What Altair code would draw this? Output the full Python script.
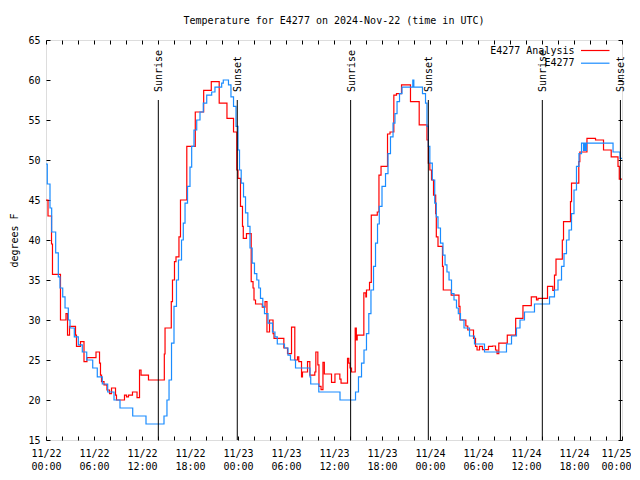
import altair as alt
import pandas as pd

MONO = "DejaVu Sans Mono"

title_text = "Temperature for E4277 on 2024-Nov-22 (time in UTC)"
series_names = ["E4277 Analysis", "E4277"]
series_colors = ["#ff0000", "#1a8cff"]

# hours since 2024-11-22 00:00 UTC
red_hours = [0.0, 0.25, 0.69, 0.81, 1.81, 2.5, 2.69, 2.94, 3.69, 3.81, 4.31, 4.75, 5.12, 6.25, 6.69,
             6.81, 6.94, 7.25, 7.62, 7.94, 8.19, 8.69, 8.81, 9.81, 10.06, 10.31, 10.81, 11.38, 11.69,
             11.88, 12.81, 14.79, 14.88, 15.66, 15.81, 16.06, 16.25, 16.62, 16.81, 17.6, 18.66, 19.71,
             20.66, 21.65, 22.62, 23.44, 23.85, 24.0, 24.31, 24.56, 24.66, 25.06, 25.65, 25.88, 26.0,
             26.19, 27.04, 27.38, 27.62, 27.94, 28.38, 28.5, 29.73, 30.19, 30.69, 31.1, 31.44, 31.6,
             31.94, 32.06, 32.69, 32.98, 33.6, 33.73, 33.98, 34.12, 34.38, 34.62, 34.79, 35.69, 36.12,
             36.73, 36.88, 37.69, 37.85, 38.0, 38.19, 38.65, 38.79, 38.9, 39.73, 39.98, 40.06, 40.44,
             40.66, 41.41, 41.62, 41.88, 42.69, 43.0, 43.48, 43.81, 44.44, 45.56, 46.65, 47.62, 47.79,
             47.98, 48.19, 48.44, 48.71, 48.79, 49.0, 49.56, 49.66, 50.65, 51.62, 51.75, 52.48, 52.72,
             53.44, 53.69, 53.88, 54.19, 54.56, 55.31, 55.81, 56.19, 56.38, 56.6, 57.66, 58.71, 59.62,
             60.66, 61.31, 61.5, 62.69, 63.35, 63.56, 63.75, 64.54, 64.69, 65.56, 65.69, 66.6, 66.73,
             67.62, 68.69, 69.69, 70.65, 71.5, 71.66, 72.0]
red_temps = [45, 43, 39.5, 35.7, 30, 30.8, 28.1, 29.2, 28.1, 26.7, 27.3, 24.8, 25.3, 26, 24.6,
             23.1, 22.3, 21.9, 21.25, 20.8, 21.5, 20.6, 20, 20.6, 20.4, 20.6, 21, 20.3, 23.75,
             23.1, 22.5, 25.75, 29, 32.3, 35, 37.3, 37.9, 40.4, 45, 51.7, 56, 58.7,
             59.8, 57.1, 55.2, 53.5, 48.75, 47.7, 44.2, 41.7, 40.2, 40.8, 34.8, 34, 32.5,
             32, 31.6, 32.3, 28.5, 30, 28.3, 27.7, 26.5, 25.8, 29.1, 25, 25.4, 24.8,
             22.9, 23.5, 24.8, 23.1, 23.5, 26, 24.4, 21.7, 21.3, 24.7, 23.25, 22.2, 23.25,
             22.6, 22.1, 25.2, 24.6, 24, 23.5, 29, 27.5, 28.1, 33.4, 32.9, 33.75, 34.7,
             43.1, 43.5, 48.1, 49.2, 53.25, 53.5, 58.1, 58.3, 59.4, 57.3, 54.4, 52.5, 49.6,
             48.75, 47.5, 45.6, 43.3, 40.4, 39.2, 36.7, 33.75, 33.1, 31.7, 30, 29.25, 28.75,
             27.7, 26.7, 26.25, 26.7, 26.3, 26.7, 26.75, 26.25, 25.8, 27.1, 28.1, 30.2, 31.8,
             32.9, 32.5, 32.7, 34.2, 33.7, 35.6, 37.6, 40, 42.3, 44.8, 47.1, 49.8, 51,
             52.7, 52.5, 51.25, 50.4, 49.2, 47.6, 47.6]

blue_hours = [0.0, 0.16, 0.5, 0.71, 1.21, 1.54, 1.75, 2.09, 2.38, 2.79, 3.0, 3.54, 4.04, 4.54, 5.09,
              5.84, 6.41, 7.04, 7.71, 8.5, 9.25, 10.84, 12.5, 14.75, 15.12, 15.38, 15.69, 16.0, 16.31,
              16.56, 16.94, 17.16, 17.38, 17.69, 18.0, 18.21, 18.5, 18.84, 19.25, 19.66, 20.09, 20.71,
              21.12, 21.96, 22.16, 22.81, 23.12, 23.44, 23.75, 24.0, 24.19, 24.4, 24.69, 24.94, 25.23,
              25.5, 25.77, 26.06, 26.35, 26.6, 26.81, 27.1, 27.31, 27.75, 28.31, 28.62, 28.91, 29.81,
              30.25, 30.56, 31.19, 33.0, 33.09, 34.1, 36.75, 38.69, 39.06, 39.44, 39.75, 40.06, 40.35,
              40.62, 40.94, 41.19, 41.44, 41.66, 42.0, 42.44, 42.75, 43.06, 43.38, 43.62, 43.88, 44.19,
              44.5, 45.85, 45.98, 47.06, 47.44, 47.62, 47.79, 47.98, 48.29, 48.59, 48.79, 49.0, 49.31,
              49.62, 49.88, 50.12, 50.38, 50.69, 51.0, 51.31, 51.54, 51.81, 52.25, 52.94, 53.56, 54.81,
              57.56, 58.19, 58.81, 59.25, 59.81, 61.06, 62.94, 63.56, 64.0, 64.44, 64.75, 65.06, 65.38,
              65.69, 66.0, 66.31, 66.62, 66.94, 67.19, 67.31, 67.41, 67.56, 70.88, 71.75, 72.0]
blue_temps = [49.5, 47, 44, 41, 38.4, 35.4, 34, 32.9, 31.5, 30, 29, 27.9, 26.9, 26, 25,
              24, 22.9, 22, 21, 20, 19, 18, 17, 18, 20, 22.5, 27.1, 31.7, 35,
              37.5, 40, 42.1, 44.6, 46.7, 49.1, 51.7, 53.75, 55, 56, 57.1, 58.1, 58.5,
              59.1, 59.6, 60, 59.4, 57.9, 56.7, 54.2, 51.25, 48.75, 47.1, 45.4, 43.4, 41.7,
              39, 37.1, 35.8, 35, 34, 32.7, 31.7, 30.8, 29.6, 28.5, 27.9, 27, 26.5,
              25.6, 25, 24, 22.9, 22, 21, 20, 21, 22.9, 24.6, 26.25, 28.3, 30.8,
              33.75, 36.7, 39.6, 42, 44.2, 46.7, 48.3, 50.8, 52.9, 54.6, 55.8, 57.3, 58.3,
              59.1, 60, 59.1, 58.3, 57.1, 54.2, 51.7, 49.6, 47.5, 44.6, 42.9, 41.5, 39.6,
              38.1, 36.9, 36, 35, 33.3, 32.5, 31.5, 30.8, 30, 29, 28, 27, 26,
              27, 28, 29, 30, 31, 32, 32.9, 33.75, 35, 36.7, 38.3, 40, 41.25,
              43.3, 46.25, 49.2, 50.8, 52.1, 51.2, 52.1, 51.2, 52.1, 51, 50.2, 50.2]

sun_hours = [14.04, 23.91, 38.08, 47.79, 62.04, 71.8]
sun_labels = ["Sunrise", "Sunset", "Sunrise", "Sunset", "Sunrise", "Sunset"]

x_label_hours = list(range(0, 73, 6))
x_tick_hours = list(range(0, 73, 2))
y_tick_values = list(range(15, 66, 5))

red_df = pd.DataFrame({"hour": red_hours, "temp": red_temps})
blue_df = pd.DataFrame({"hour": blue_hours, "temp": blue_temps})
sun_df = pd.DataFrame({"hour": sun_hours, "label": sun_labels})
legend_df = pd.DataFrame({"name": series_names, "color": series_colors})

xscale = alt.Scale(domain=[0, 72], nice=False, zero=False)
yscale = alt.Scale(domain=[15, 65], nice=False, zero=False)

label_expr = ("['11/' + (22 + floor(datum.value / 24)), "
              "(datum.value % 24 < 10 ? '0' : '') + (datum.value % 24) + ':00']")

# labelled axes (bottom / left)
x_lab = alt.Axis(orient="bottom", values=x_label_hours, labelExpr=label_expr, ticks=False,
                 domain=False, grid=False, title=None, labelPadding=8, labelBaseline="top",
                 labelLineHeight=13, labelFont=MONO, labelFontSize=10, labelColor="black",
                 labelFlush=False, labelOverlap=False,
                 labelOffset={"condition": {"test": "datum.value >= 72", "value": -6}, "value": 0})
y_lab = alt.Axis(orient="left", values=y_tick_values, ticks=False, domain=False, grid=False,
                 title="degrees F", titleFont=MONO, titleFontSize=10, titleFontWeight="normal",
                 titleColor="black", titleX=-32, titleY=200, titleAngle=270, titleAlign="center",
                 titleBaseline="middle", labelPadding=6, labelFont=MONO, labelFontSize=10,
                 labelColor="black", labelFlush=False)
# inward tick axes
tick_common = dict(labels=False, domain=False, grid=False, title=None, tickColor="black",
                   tickSize=4, tickWidth=1)
x_bot_in = alt.Axis(orient="top", offset=-400, values=x_tick_hours, **tick_common)
x_top_in = alt.Axis(orient="bottom", offset=-400, values=x_tick_hours, **tick_common)
y_left_in = alt.Axis(orient="right", offset=-576, values=y_tick_values, **tick_common)
y_right_in = alt.Axis(orient="left", offset=-576, values=y_tick_values, **tick_common)

red_line = alt.Chart(red_df).mark_line(interpolate="step-after", color=series_colors[0],
                                       strokeWidth=1.2).encode(
    x=alt.X("hour:Q", scale=xscale, axis=x_lab),
    y=alt.Y("temp:Q", scale=yscale, axis=y_lab),
)
blue_line = alt.Chart(blue_df).mark_line(interpolate="step-after", color=series_colors[1],
                                         strokeWidth=1.2).encode(
    x=alt.X("hour:Q", scale=xscale, axis=x_bot_in),
    y=alt.Y("temp:Q", scale=yscale, axis=y_left_in),
)
tick_layer = alt.Chart(red_df).mark_line(strokeOpacity=0).encode(
    x=alt.X("hour:Q", scale=xscale, axis=x_top_in),
    y=alt.Y("temp:Q", scale=yscale, axis=y_right_in),
)

sun_rules = alt.Chart(sun_df).mark_rule(color="black", strokeWidth=1).encode(
    x=alt.X("hour:Q", scale=xscale, axis=None),
    y=alt.YDatum(57.5, axis=None),
    y2=alt.datum(15),
)
sun_text = alt.Chart(sun_df).mark_text(angle=270, align="left", baseline="middle", font=MONO,
                                       fontSize=10, color="black", dy=1).encode(
    x=alt.X("hour:Q", scale=xscale, axis=None),
    y=alt.YDatum(58.5, axis=None),
    text="label:N",
)

legend_layers = []
for i in range(len(series_names)):
    row = legend_df.iloc[[i]]
    ypix = 10.5 + 12.7 * i
    legend_layers.append(
        alt.Chart(row).mark_text(align="right", baseline="middle", font=MONO, fontSize=10,
                                 color="black").encode(
            x=alt.value(528.5), y=alt.value(ypix), text="name:N"))
    legend_layers.append(
        alt.Chart(row).mark_rule(color=series_colors[i], strokeWidth=1.2).encode(
            x=alt.value(535), x2=alt.value(563.5), y=alt.value(ypix)))

chart = alt.layer(
    red_line, blue_line, tick_layer, sun_rules, sun_text, *legend_layers
).resolve_axis(x="independent", y="independent").properties(
    width=576,
    height=400,
    title=alt.TitleParams(text=title_text, font=MONO, fontSize=10, fontWeight="normal",
                          anchor="middle", color="black", offset=9),
    autosize=alt.AutoSizeParams(type="none"),
    padding={"left": 38, "top": 32, "right": 9, "bottom": 30},
).configure_view(stroke="black", strokeWidth=1).configure(background="white")

chart.save("out.html", embed_options={"renderer": "svg", "actions": False})
